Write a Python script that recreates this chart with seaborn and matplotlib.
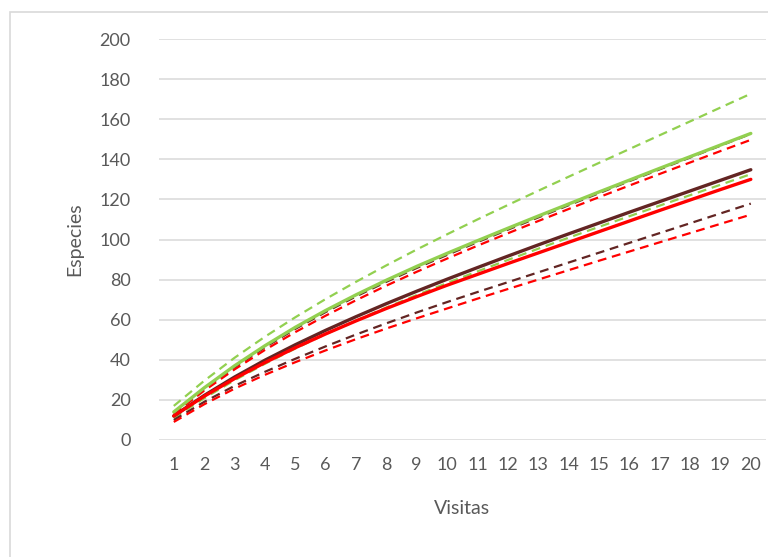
import matplotlib
matplotlib.use("Agg")
import matplotlib.pyplot as plt
import seaborn as sns
import pandas as pd
from matplotlib.patches import Rectangle

visitas = list(range(1, 21))

verde = [14, 26, 37, 47, 56.2, 64.6, 72.4, 79.7, 86.6, 93.1, 99.4, 105.6, 111.7, 117.7, 123.7, 129.6, 135.5, 141.3, 147.1, 152.9]
verde_sup = [17, 29.5, 41, 51.5, 61.2, 70.3, 78.9, 87.1, 95, 102.6, 110, 117.2, 124.3, 131.3, 138.2, 145.1, 152, 158.9, 165.8, 172.7]
verde_inf = [11, 20.8, 29.8, 38, 45.6, 52.8, 59.6, 66.1, 72.3, 78.3, 84.1, 89.8, 95.4, 100.9, 106.3, 111.6, 116.9, 122.1, 127.3, 132.6]

marron = [12, 22.2, 31.4, 39.8, 47.5, 54.7, 61.5, 68, 74.2, 80.2, 86, 91.7, 97.3, 102.8, 108.2, 113.6, 118.9, 124.2, 129.5, 134.8]
marron_sup = [13.5, 25.3, 36.2, 46.2, 55.4, 63.8, 71.6, 78.9, 85.8, 92.3, 98.7, 104.9, 111.0, 117.1, 123.1, 129.1, 135.0, 140.9, 146.8, 152.7]
marron_inf = [10, 19, 27, 34, 40.5, 46.7, 52.6, 58.2, 63.6, 68.8, 73.8, 78.7, 83.6, 88.5, 93.4, 98.3, 103.2, 108.1, 113.0, 117.9]

rojo = [12, 21.8, 30.6, 38.6, 46, 52.9, 59.4, 65.6, 71.5, 77.2, 82.6, 88.0, 93.3, 98.6, 103.9, 109.2, 114.5, 119.7, 124.9, 130.0]
rojo_sup = [13, 24.6, 35.2, 44.9, 53.8, 62, 69.7, 77, 83.9, 90.5, 96.9, 103.1, 109.2, 115.2, 121.1, 126.9, 132.7, 138.4, 144.1, 149.7]
rojo_inf = [9, 17.8, 25.6, 32.5, 38.8, 44.7, 50.3, 55.6, 60.7, 65.6, 70.5, 75.3, 80.0, 84.7, 89.4, 94.0, 98.6, 103.2, 107.8, 112.4]

VERDE = "#92D050"
MARRON = "#632523"
ROJO = "#FF0000"

series = [
    (verde_sup, VERDE, "dashed"),
    (verde_inf, VERDE, "dashed"),
    (marron_sup, MARRON, "dashed"),
    (marron_inf, MARRON, "dashed"),
    (rojo_sup, ROJO, "dashed"),
    (rojo_inf, ROJO, "dashed"),
    (marron, MARRON, "solid"),
    (rojo, ROJO, "solid"),
    (verde, VERDE, "solid"),
]

sns.set_theme(style="white")
plt.rcParams['font.family'] = ['Lato', 'DejaVu Sans']

fig = plt.figure(figsize=(7.68, 5.57), dpi=100)
ax = fig.add_axes([158.6 / 768, 1 - 440 / 557, (766 - 158.6) / 768, (440 - 39) / 557])

for vals, col, ls in series:
    df = pd.DataFrame({"Visitas": visitas, "Especies": vals})
    if ls == "solid":
        sns.lineplot(data=df, x="Visitas", y="Especies", ax=ax, color=col, lw=2.4, zorder=3)
    else:
        sns.lineplot(data=df, x="Visitas", y="Especies", ax=ax, color=col, lw=1.6,
                     zorder=2).lines[-1].set_dashes([4, 2.6])

ax.set_xlim(0.5, 20.5)
ax.set_ylim(0, 200)
ax.set_xticks(visitas)
ax.set_yticks(range(0, 201, 20))
ax.grid(axis="y", color="#D9D9D9", lw=1.1)
ax.grid(axis="x", visible=False)
ax.set_axisbelow(True)
for s in ax.spines.values():
    s.set_visible(False)
ax.tick_params(axis="both", length=0, labelsize=13, colors="#595959")
ax.tick_params(axis="y", pad=20)
ax.tick_params(axis="x", pad=12)
ax.set_xlabel("Visitas", fontsize=14, color="#595959", labelpad=20)
ax.set_ylabel("Especies", fontsize=14, color="#595959", labelpad=12)

fig.patches.append(Rectangle((10 / 768, -0.1), 1.2, 1 - 12 / 557 + 0.1,
                             transform=fig.transFigure, fill=False,
                             edgecolor="#D9D9D9", lw=1.2))

fig.savefig("out.png", dpi=100)
